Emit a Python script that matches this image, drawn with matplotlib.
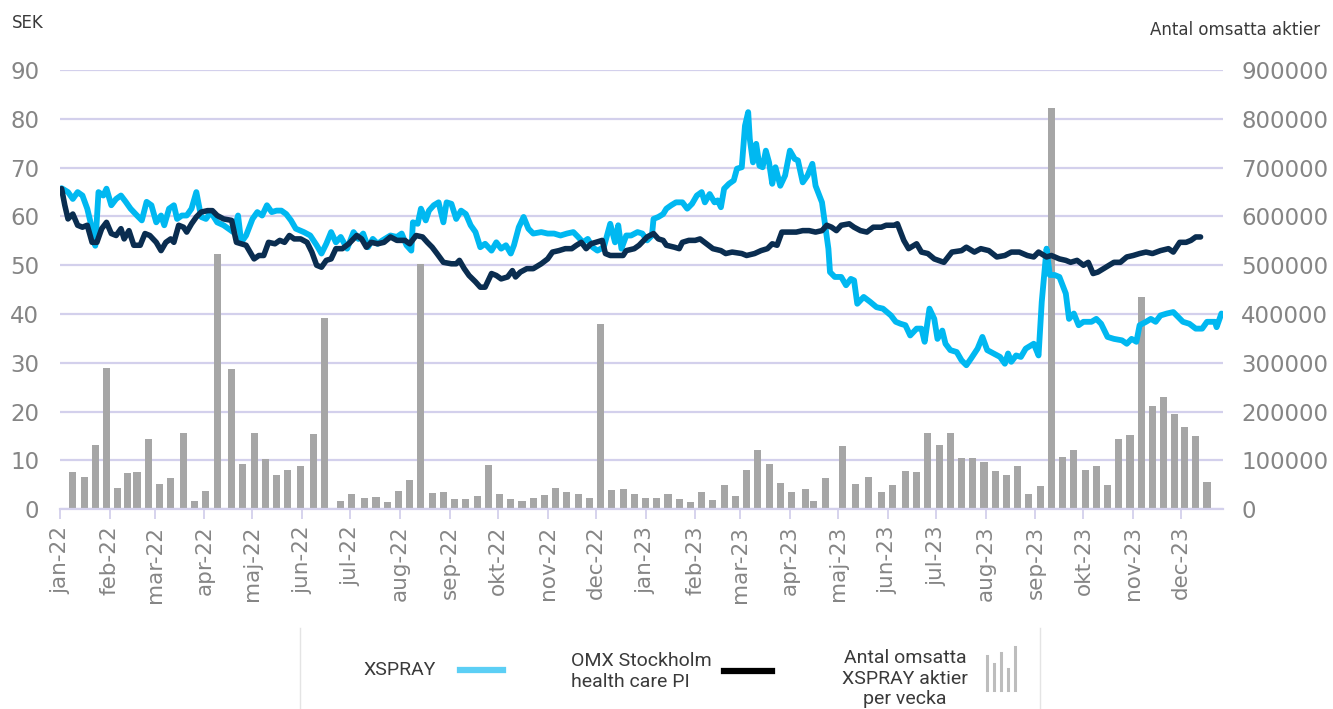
import numpy as np
import pandas as pd
import matplotlib as mpl
import matplotlib.pyplot as plt
import matplotlib.dates as mdates
from matplotlib.lines import Line2D

plt.rcParams['font.family'] = ['DejaVu Sans']

# Colours
clr_xspray = '#00B8F1'
clr_xspray_key = '#5CCFF5'
clr_omx = '#0A2D50'
clr_bar = '#A6A6A6'
clr_grid = '#D3D0EC'
clr_tick = '#858585'
clr_text = '#3A3A3A'

# Data: XSPRAY share price (SEK)
xspray_dates = [
    '2022-01-02', '2022-01-06', '2022-01-09', '2022-01-12', '2022-01-15', '2022-01-18', '2022-01-21', '2022-01-23',
    '2022-01-25', '2022-01-28', '2022-01-30', '2022-02-02', '2022-02-05', '2022-02-08', '2022-02-11', '2022-02-14',
    '2022-02-18', '2022-02-21', '2022-02-24', '2022-02-27', '2022-03-02', '2022-03-05', '2022-03-07', '2022-03-10',
    '2022-03-13', '2022-03-15', '2022-03-18', '2022-03-21', '2022-03-24', '2022-03-27', '2022-03-30', '2022-04-02',
    '2022-04-05', '2022-04-09', '2022-04-13', '2022-04-16', '2022-04-19', '2022-04-22', '2022-04-24', '2022-04-27',
    '2022-05-01', '2022-05-04', '2022-05-07', '2022-05-10', '2022-05-13', '2022-05-16', '2022-05-19', '2022-05-22',
    '2022-05-25', '2022-05-28', '2022-06-02', '2022-06-06', '2022-06-10', '2022-06-13', '2022-06-16', '2022-06-19',
    '2022-06-22', '2022-06-25', '2022-06-29', '2022-07-03', '2022-07-06', '2022-07-09', '2022-07-12', '2022-07-15',
    '2022-07-18', '2022-07-21', '2022-07-26', '2022-07-30', '2022-08-02', '2022-08-05', '2022-08-08', '2022-08-09',
    '2022-08-12', '2022-08-14', '2022-08-17', '2022-08-19', '2022-08-22', '2022-08-25', '2022-08-28', '2022-08-30',
    '2022-09-02', '2022-09-05', '2022-09-08', '2022-09-11', '2022-09-14', '2022-09-17', '2022-09-20', '2022-09-23',
    '2022-09-27', '2022-09-30', '2022-10-03', '2022-10-06', '2022-10-09', '2022-10-11', '2022-10-14', '2022-10-17',
    '2022-10-20', '2022-10-23', '2022-10-28', '2022-11-01', '2022-11-05', '2022-11-09', '2022-11-13', '2022-11-17',
    '2022-11-20', '2022-11-23', '2022-11-26', '2022-11-29', '2022-12-02', '2022-12-06', '2022-12-10', '2022-12-13',
    '2022-12-15', '2022-12-17', '2022-12-20', '2022-12-23', '2022-12-27', '2022-12-30', '2023-01-02', '2023-01-05',
    '2023-01-06', '2023-01-09', '2023-01-12', '2023-01-14', '2023-01-17', '2023-01-20', '2023-01-24', '2023-01-27',
    '2023-01-30', '2023-02-02', '2023-02-05', '2023-02-07', '2023-02-10', '2023-02-13', '2023-02-15', '2023-02-17',
    '2023-02-19', '2023-02-22', '2023-02-25', '2023-02-27', '2023-03-02', '2023-03-04', '2023-03-06', '2023-03-07',
    '2023-03-09', '2023-03-11', '2023-03-13', '2023-03-15', '2023-03-17', '2023-03-19', '2023-03-21', '2023-03-23',
    '2023-03-26', '2023-03-29', '2023-04-01', '2023-04-04', '2023-04-06', '2023-04-09', '2023-04-12', '2023-04-15',
    '2023-04-17', '2023-04-19', '2023-04-21', '2023-04-23', '2023-04-25', '2023-04-26', '2023-04-29', '2023-05-03',
    '2023-05-06', '2023-05-09', '2023-05-11', '2023-05-13', '2023-05-17', '2023-05-21', '2023-05-25', '2023-05-29',
    '2023-06-03', '2023-06-06', '2023-06-09', '2023-06-12', '2023-06-15', '2023-06-19', '2023-06-22', '2023-06-24',
    '2023-06-27', '2023-06-30', '2023-07-02', '2023-07-05', '2023-07-07', '2023-07-10', '2023-07-14', '2023-07-17',
    '2023-07-20', '2023-07-23', '2023-07-27', '2023-07-30', '2023-08-02', '2023-08-06', '2023-08-10', '2023-08-13',
    '2023-08-15', '2023-08-17', '2023-08-20', '2023-08-23', '2023-08-26', '2023-08-31', '2023-09-03', '2023-09-05',
    '2023-09-08', '2023-09-10', '2023-09-13', '2023-09-16', '2023-09-20', '2023-09-22', '2023-09-25', '2023-09-28',
    '2023-10-01', '2023-10-06', '2023-10-09', '2023-10-12', '2023-10-16', '2023-10-20', '2023-10-25', '2023-10-28',
    '2023-10-31', '2023-11-03', '2023-11-05', '2023-11-09', '2023-11-12', '2023-11-15', '2023-11-18', '2023-11-22',
    '2023-11-26', '2023-11-29', '2023-12-02', '2023-12-06', '2023-12-10', '2023-12-14', '2023-12-17', '2023-12-22',
    '2023-12-23', '2023-12-26',
]
xspray_sek = [
    65.8, 65.0, 63.6, 65.0, 64.3, 61.6, 57.5, 54.0,
    65.0, 64.3, 65.7, 62.3, 63.6, 64.3, 63.0, 61.6,
    60.2, 59.2, 63.0, 62.3, 58.8, 60.2, 58.2, 61.6,
    62.3, 59.5, 60.2, 60.2, 61.6, 65.0, 59.9, 59.5,
    60.9, 58.8, 58.2, 57.5, 56.8, 60.2, 54.7, 56.1,
    59.5, 60.9, 60.2, 62.3, 60.9, 61.2, 61.2, 60.5,
    59.2, 57.5, 56.8, 56.1, 54.1, 52.4, 54.4, 56.8,
    54.7, 55.8, 53.4, 56.8, 55.4, 56.5, 53.7, 55.4,
    54.4, 55.1, 56.1, 55.8, 56.5, 54.1, 53.0, 58.8,
    58.5, 61.6, 59.2, 61.2, 62.3, 62.9, 58.8, 62.9,
    62.6, 59.5, 61.2, 60.5, 58.2, 56.8, 53.7, 54.4,
    53.0, 54.7, 53.4, 54.1, 52.4, 54.1, 57.8, 59.9,
    57.5, 56.5, 56.8, 56.5, 56.5, 56.1, 56.5, 56.8,
    55.8, 54.7, 55.4, 53.7, 53.0, 53.7, 58.5, 54.7,
    58.2, 53.4, 56.1, 56.1, 56.8, 56.5, 55.1, 56.1,
    59.5, 59.9, 60.5, 61.6, 62.3, 62.9, 62.9, 61.6,
    62.6, 64.3, 65.0, 62.9, 64.6, 62.9, 63.3, 61.9,
    65.7, 66.7, 67.4, 69.8, 70.1, 78.6, 81.4, 75.9,
    71.1, 74.9, 70.4, 70.1, 73.5, 71.1, 66.7, 70.1,
    66.3, 68.4, 73.5, 71.8, 71.5, 67.0, 68.4, 70.8,
    66.3, 64.6, 62.9, 58.2, 53.4, 48.6, 47.6, 47.6,
    45.9, 47.2, 46.9, 42.1, 43.5, 42.5, 41.4, 41.1,
    39.7, 38.4, 38.0, 37.7, 35.6, 37.0, 37.0, 34.3,
    41.1, 39.0, 34.9, 36.6, 33.9, 32.6, 32.2, 30.5,
    29.5, 30.9, 32.9, 35.3, 32.6, 31.9, 31.2, 29.8,
    31.9, 30.2, 31.5, 31.2, 32.9, 33.9, 31.5, 42.5,
    53.4, 48.0, 48.0, 47.6, 44.2, 39.0, 40.1, 37.7,
    38.4, 38.4, 39.0, 38.0, 35.3, 34.9, 34.6, 33.9,
    34.9, 34.3, 37.7, 38.4, 39.0, 38.4, 39.7, 40.1,
    40.4, 39.4, 38.4, 38.0, 37.0, 37.0, 38.4, 38.4,
    37.3, 40.1,
]

# Data: OMX Stockholm health care PI (rebased, SEK scale)
omx_dates = [
    '2022-01-02', '2022-01-04', '2022-01-06', '2022-01-09', '2022-01-12', '2022-01-15', '2022-01-18', '2022-01-21',
    '2022-01-24', '2022-01-27', '2022-01-30', '2022-02-02', '2022-02-05', '2022-02-08', '2022-02-10', '2022-02-13',
    '2022-02-16', '2022-02-20', '2022-02-23', '2022-02-26', '2022-03-02', '2022-03-05', '2022-03-08', '2022-03-11',
    '2022-03-13', '2022-03-16', '2022-03-19', '2022-03-21', '2022-03-24', '2022-03-27', '2022-03-30', '2022-04-03',
    '2022-04-06', '2022-04-09', '2022-04-13', '2022-04-18', '2022-04-21', '2022-04-24', '2022-04-27', '2022-05-02',
    '2022-05-05', '2022-05-08', '2022-05-11', '2022-05-15', '2022-05-18', '2022-05-21', '2022-05-24', '2022-05-27',
    '2022-05-31', '2022-06-04', '2022-06-07', '2022-06-10', '2022-06-13', '2022-06-16', '2022-06-19', '2022-06-22',
    '2022-06-26', '2022-06-30', '2022-07-05', '2022-07-08', '2022-07-11', '2022-07-14', '2022-07-18', '2022-07-22',
    '2022-07-26', '2022-07-30', '2022-08-04', '2022-08-07', '2022-08-11', '2022-08-15', '2022-08-18', '2022-08-21',
    '2022-08-24', '2022-08-28', '2022-09-02', '2022-09-05', '2022-09-07', '2022-09-10', '2022-09-13', '2022-09-17',
    '2022-09-20', '2022-09-23', '2022-09-27', '2022-09-30', '2022-10-03', '2022-10-07', '2022-10-10', '2022-10-12',
    '2022-10-15', '2022-10-19', '2022-10-23', '2022-10-28', '2022-11-01', '2022-11-04', '2022-11-08', '2022-11-12',
    '2022-11-16', '2022-11-19', '2022-11-22', '2022-11-25', '2022-11-28', '2022-12-01', '2022-12-05', '2022-12-07',
    '2022-12-10', '2022-12-14', '2022-12-18', '2022-12-20', '2022-12-25', '2022-12-28', '2023-01-02', '2023-01-06',
    '2023-01-09', '2023-01-12', '2023-01-14', '2023-01-19', '2023-01-22', '2023-01-24', '2023-01-28', '2023-02-01',
    '2023-02-04', '2023-02-08', '2023-02-12', '2023-02-17', '2023-02-20', '2023-02-24', '2023-03-02', '2023-03-05',
    '2023-03-10', '2023-03-14', '2023-03-18', '2023-03-21', '2023-03-24', '2023-03-27', '2023-03-31', '2023-04-05',
    '2023-04-09', '2023-04-13', '2023-04-17', '2023-04-21', '2023-04-24', '2023-04-27', '2023-04-30', '2023-05-03',
    '2023-05-08', '2023-05-11', '2023-05-15', '2023-05-19', '2023-05-23', '2023-05-28', '2023-05-31', '2023-06-05',
    '2023-06-07', '2023-06-11', '2023-06-14', '2023-06-19', '2023-06-22', '2023-06-26', '2023-06-30', '2023-07-06',
    '2023-07-11', '2023-07-17', '2023-07-20', '2023-07-25', '2023-07-29', '2023-08-03', '2023-08-08', '2023-08-13',
    '2023-08-17', '2023-08-22', '2023-08-27', '2023-08-31', '2023-09-03', '2023-09-08', '2023-09-11', '2023-09-16',
    '2023-09-20', '2023-09-23', '2023-09-27', '2023-10-01', '2023-10-04', '2023-10-07', '2023-10-10', '2023-10-15',
    '2023-10-20', '2023-10-24', '2023-10-28', '2023-11-01', '2023-11-05', '2023-11-09', '2023-11-13', '2023-11-18',
    '2023-11-23', '2023-11-26', '2023-11-30', '2023-12-04', '2023-12-07', '2023-12-10', '2023-12-13',
]
omx_sek = [
    65.7, 62.3, 59.5, 60.5, 58.2, 57.8, 58.2, 54.7,
    54.7, 57.5, 58.8, 56.5, 56.1, 57.5, 55.4, 57.1,
    54.1, 54.1, 56.5, 56.1, 54.7, 53.0, 54.7, 55.4,
    54.7, 58.2, 57.8, 56.8, 58.5, 59.9, 60.9, 61.2,
    61.2, 60.2, 59.5, 59.2, 54.7, 54.4, 54.1, 51.3,
    52.0, 52.0, 54.7, 54.4, 55.1, 54.7, 56.1, 55.4,
    55.4, 54.7, 52.7, 50.0, 49.6, 51.0, 51.3, 53.4,
    53.4, 54.4, 56.1, 55.4, 53.7, 54.7, 54.4, 54.7,
    55.8, 55.1, 55.1, 54.4, 56.1, 55.8, 54.7, 53.7,
    52.4, 50.6, 50.3, 50.3, 51.0, 49.3, 47.9, 46.6,
    45.5, 45.5, 48.3, 47.9, 47.2, 47.6, 48.9, 47.6,
    48.6, 49.3, 49.3, 50.3, 51.3, 52.7, 53.0, 53.4,
    53.4, 54.1, 54.7, 53.4, 54.4, 54.7, 55.1, 52.4,
    52.0, 52.0, 52.0, 53.0, 53.4, 54.1, 55.8, 56.5,
    55.4, 55.1, 54.1, 53.7, 53.4, 54.7, 55.1, 55.1,
    55.4, 54.4, 53.4, 53.0, 52.4, 52.7, 52.4, 52.0,
    52.4, 53.0, 53.4, 54.4, 54.1, 56.8, 56.8, 56.8,
    57.1, 57.1, 56.8, 57.1, 58.2, 57.8, 57.1, 58.2,
    58.5, 57.8, 57.1, 56.8, 57.8, 57.8, 58.2, 58.2,
    58.5, 55.1, 53.4, 54.4, 52.7, 52.4, 51.3, 50.6,
    52.7, 53.0, 53.7, 52.7, 53.4, 53.0, 51.7, 52.0,
    52.7, 52.7, 52.0, 51.7, 52.7, 51.7, 52.0, 51.3,
    51.0, 50.6, 51.0, 50.0, 50.6, 48.3, 48.6, 49.6,
    50.6, 50.6, 51.7, 52.0, 52.4, 52.7, 52.4, 53.0,
    53.4, 52.7, 54.7, 54.7, 55.1, 55.8, 55.8,
]

# Data: weekly traded XSPRAY shares
week_dates = [
    '2022-01-09', '2022-01-16', '2022-01-23', '2022-01-30', '2022-02-06', '2022-02-12', '2022-02-18', '2022-02-25',
    '2022-03-04', '2022-03-11', '2022-03-19', '2022-03-26', '2022-04-02', '2022-04-09', '2022-04-18', '2022-04-25',
    '2022-05-02', '2022-05-09', '2022-05-16', '2022-05-23', '2022-05-31', '2022-06-08', '2022-06-15', '2022-06-25',
    '2022-07-02', '2022-07-10', '2022-07-17', '2022-07-24', '2022-07-31', '2022-08-07', '2022-08-14', '2022-08-21',
    '2022-08-28', '2022-09-04', '2022-09-11', '2022-09-18', '2022-09-25', '2022-10-02', '2022-10-09', '2022-10-16',
    '2022-10-23', '2022-10-30', '2022-11-06', '2022-11-13', '2022-11-20', '2022-11-27', '2022-12-04', '2022-12-11',
    '2022-12-18', '2022-12-25', '2023-01-01', '2023-01-08', '2023-01-15', '2023-01-22', '2023-01-29', '2023-02-05',
    '2023-02-12', '2023-02-19', '2023-02-26', '2023-03-05', '2023-03-12', '2023-03-19', '2023-03-26', '2023-04-02',
    '2023-04-11', '2023-04-16', '2023-04-23', '2023-05-04', '2023-05-12', '2023-05-20', '2023-05-28', '2023-06-04',
    '2023-06-12', '2023-06-19', '2023-06-26', '2023-07-03', '2023-07-10', '2023-07-17', '2023-07-24', '2023-07-31',
    '2023-08-07', '2023-08-14', '2023-08-21', '2023-08-28', '2023-09-04', '2023-09-11', '2023-09-18', '2023-09-25',
    '2023-10-02', '2023-10-09', '2023-10-16', '2023-10-23', '2023-10-30', '2023-11-06', '2023-11-13', '2023-11-20',
    '2023-11-27', '2023-12-03', '2023-12-10', '2023-12-17',
]
week_volume = [
    75000, 66000, 132000, 289000, 43000, 74000, 77000, 143000,
    51000, 64000, 155000, 17000, 38000, 523000, 287000, 92000,
    156000, 103000, 70000, 80000, 89000, 153000, 391000, 17000,
    30000, 23000, 24000, 15000, 37000, 60000, 502000, 32000,
    36000, 21000, 21000, 27000, 90000, 30000, 21000, 16000,
    22000, 29000, 44000, 34000, 30000, 22000, 380000, 39000,
    41000, 31000, 23000, 23000, 31000, 20000, 15000, 34000,
    18000, 49000, 27000, 81000, 122000, 92000, 53000, 34000,
    42000, 16000, 63000, 130000, 51000, 66000, 36000, 49000,
    78000, 75000, 156000, 131000, 156000, 104000, 105000, 97000,
    78000, 69000, 88000, 31000, 47000, 822000, 107000, 122000,
    81000, 89000, 49000, 144000, 152000, 434000, 211000, 229000,
    194000, 169000, 149000, 55000,
]

sv_months = ['jan', 'feb', 'mar', 'apr', 'maj', 'jun', 'jul', 'aug', 'sep', 'okt', 'nov', 'dec']


def month_label(x, pos):
    d = mdates.num2date(x)
    return f'{sv_months[d.month - 1]}-{d:%y}'


# Figure
fig = plt.figure(figsize=(13.33, 7.09), dpi=100)
ax = fig.add_axes([0.045, 0.282, 0.8725, 0.619])
axr = ax.twinx()
ax.set_zorder(axr.get_zorder() + 1)
ax.patch.set_visible(False)

# Bars (right axis)
axr.bar(pd.to_datetime(week_dates), week_volume, width=4.4, color=clr_bar, zorder=2)
axr.set_ylim(0, 900000)
axr.set_yticks(np.arange(0, 900001, 100000))
axr.set_axisbelow(True)
axr.yaxis.grid(True, color=clr_grid, lw=1.6)
axr.tick_params(axis='y', length=0, pad=13, labelsize=16.5, labelcolor=clr_tick)

# Lines (left axis)
ax.plot(pd.to_datetime(xspray_dates), xspray_sek, color=clr_xspray, lw=4.2,
        solid_joinstyle='round', solid_capstyle='round', zorder=3)
ax.plot(pd.to_datetime(omx_dates), omx_sek, color=clr_omx, lw=4.0,
        solid_joinstyle='round', solid_capstyle='round', zorder=4)
ax.set_ylim(0, 90)
ax.set_yticks(range(0, 91, 10))
ax.tick_params(axis='y', length=0, pad=15, labelsize=16.5, labelcolor=clr_tick)

ax.set_xlim(pd.Timestamp('2022-01-01'), pd.Timestamp('2023-12-27'))
ax.xaxis.set_major_locator(mdates.MonthLocator())
ax.xaxis.set_major_formatter(mpl.ticker.FuncFormatter(month_label))
ax.tick_params(axis='x', length=7, width=1.3, color=clr_grid, pad=5,
               labelsize=15.5, labelcolor=clr_tick, labelrotation=90)

for a in (ax, axr):
    for s in ('top', 'left', 'right'):
        a.spines[s].set_visible(False)
axr.spines['bottom'].set_visible(False)
ax.spines['bottom'].set_color(clr_grid)
ax.spines['bottom'].set_linewidth(1.6)

# Axis titles
fig.text(0.009, 0.967, 'SEK', ha='left', va='center', fontsize=12, color=clr_text)
fig.text(0.990, 0.957, 'Antal omsatta aktier', ha='right', va='center', fontsize=12, color=clr_text)

# Legend (drawn by hand, bottom centre)
lg_font = ['Roboto', 'DejaVu Sans']
for xd in (0.2251, 0.7802):
    fig.add_artist(Line2D([xd, xd], [0.0, 0.114], color='#E4E4E4', lw=1.0))
fig.text(0.300, 0.055, 'XSPRAY', ha='center', va='center', fontsize=14,
         color=clr_text, family=lg_font)
fig.add_artist(Line2D([0.345, 0.377], [0.055, 0.055], color=clr_xspray_key, lw=4.5))
fig.text(0.428, 0.053, 'OMX Stockholm\nhealth care PI', ha='left', va='center', fontsize=14,
         color=clr_text, family=lg_font, linespacing=1.2)
fig.add_artist(Line2D([0.543, 0.579], [0.053, 0.053], color='black', lw=4.5))
fig.text(0.679, 0.043, 'Antal omsatta\nXSPRAY aktier\nper vecka', ha='center', va='center',
         fontsize=14, color=clr_text, family=lg_font, linespacing=1.2)
icon_x = [0.7405, 0.7458, 0.7510, 0.7563, 0.7615]
icon_top = [0.068, 0.057, 0.072, 0.050, 0.080]
for xi, yt in zip(icon_x, icon_top):
    fig.add_artist(Line2D([xi, xi], [0.027, 0.027 + yt - 0.02], color='#BDBDBD', lw=2.2))

fig.savefig('out.png', dpi=100)
